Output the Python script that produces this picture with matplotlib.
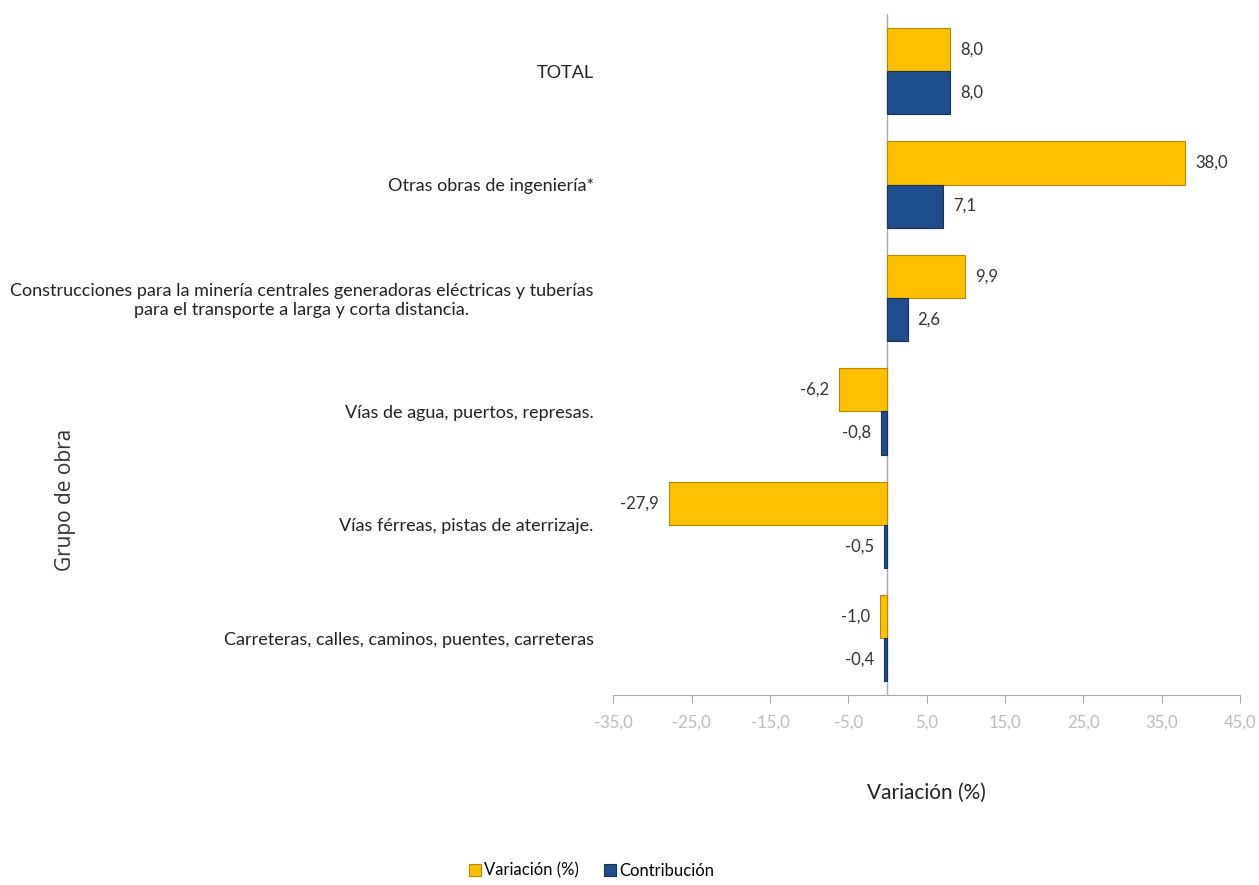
import matplotlib.pyplot as plt
import numpy as np

plt.rcParams['font.family'] = ['Lato', 'DejaVu Sans']

# categories, bottom to top
grupos = ['Carreteras, calles, caminos, puentes, carreteras',
          'Vías férreas, pistas de aterrizaje.',
          'Vías de agua, puertos, represas.',
          'Construcciones para la minería centrales generadoras eléctricas y tuberías\npara el transporte a larga y corta distancia.',
          'Otras obras de ingeniería*',
          'TOTAL']
variacion = [-1.0, -27.9, -6.2, 9.9, 38.0, 8.0]
contribucion = [-0.4, -0.5, -0.8, 2.6, 7.1, 8.0]
xticks = [-35, -25, -15, -5, 5, 15, 25, 35, 45]

amarillo = '#FFC000'
azul = '#1F4E8C'

fig = plt.figure(figsize=(12.59, 8.85), dpi=100)
ax = fig.add_axes([0.487, 0.2147, 0.498, 0.769])

y = np.arange(len(grupos))
h = 0.38
b1 = ax.barh(y + h / 2, variacion, height=h, color=amarillo, edgecolor='#B8860B', linewidth=0.8,
             label='Variación (%)')
b2 = ax.barh(y - h / 2, contribucion, height=h, color=azul, edgecolor='#15325A', linewidth=0.8,
             label='Contribución')

def fmt(v):
    return f'{v:.1f}'.replace('.', ',')

for bars, vals in [(b1, variacion), (b2, contribucion)]:
    for bar, v in zip(bars, vals):
        yc = bar.get_y() + bar.get_height() / 2
        if v >= 0:
            ax.annotate(fmt(v), (v, yc), xytext=(7, 0), textcoords='offset points',
                        ha='left', va='center', fontsize=12, color='#333333')
        else:
            ax.annotate(fmt(v), (v, yc), xytext=(-7, 0), textcoords='offset points',
                        ha='right', va='center', fontsize=12, color='#333333')

ax.set_xlim(-35, 45)
ax.set_ylim(-0.5, len(grupos) - 0.5)
ax.set_xticks(xticks)
ax.set_xticklabels([fmt(t) for t in xticks], color='#BBBBBB', fontsize=12)
ax.tick_params(axis='x', length=6, color='#AAAAAA', pad=8)

ax.set_yticks(y)
ax.set_yticklabels(grupos, fontsize=13, color='#222222', multialignment='center')
ax.tick_params(axis='y', length=0, pad=14)

for s in ['top', 'right', 'left']:
    ax.spines[s].set_visible(False)
ax.spines['bottom'].set_color('#AAAAAA')
ax.axvline(0, color='#AAAAAA', linewidth=1, zorder=0)

ax.set_xlabel('Variación (%)', fontsize=15, color='#222222', labelpad=38)
fig.text(0.052, 0.435, 'Grupo de obra', rotation=90, ha='center', va='center',
         fontsize=15, color='#333333', family=['Open Sans', 'DejaVu Sans'])

handles, labels = ax.get_legend_handles_labels()
fig.legend(handles, labels, loc='center', bbox_to_anchor=(0.47, 0.016), ncol=2,
           frameon=False, fontsize=12, handlelength=0.7, handleheight=0.7,
           handletextpad=0.2, columnspacing=1.5)

fig.savefig('out.png', dpi=100)
